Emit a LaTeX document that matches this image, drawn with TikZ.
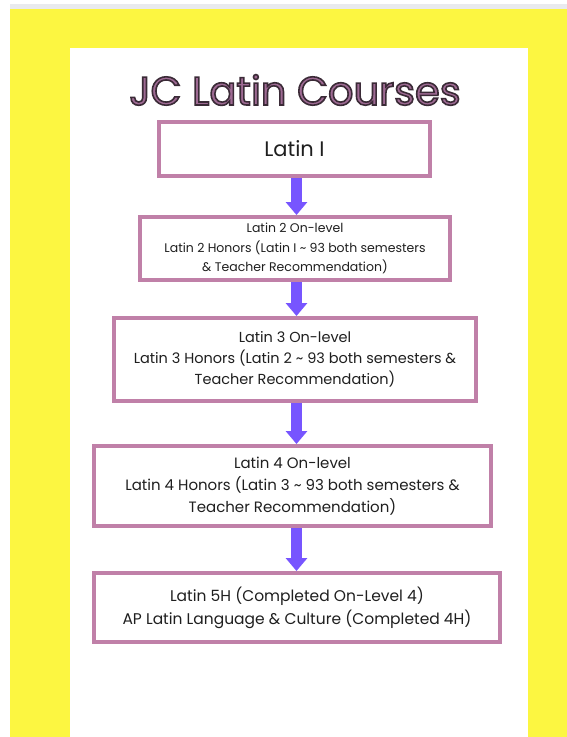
\documentclass[tikz,border=0pt]{standalone}
\usepackage{fontspec}
\setmainfont{Poppins}
\usetikzlibrary{arrows.meta}
\definecolor{bgyellow}{HTML}{FCF641}
\definecolor{stripgray}{HTML}{E9EAEE}
\definecolor{boxmauve}{HTML}{C080A8}
\definecolor{arrowblue}{HTML}{7755FF}
\definecolor{titlefill}{HTML}{9E6A93}
% outlined title text: fill in titlefill, stroke in dark plum
\newcommand{\outlined}[1]{\special{pdf:literal direct 2 Tr 1.6 w 0.231 0.169 0.216 RG}#1\special{pdf:literal direct 0 Tr}}
\tikzset{
  course/.style={draw=boxmauve, line width=4pt, fill=white, inner sep=0pt, align=center, text=black!88},
  flow/.style={arrowblue, line width=11pt, -{Triangle[width=21pt,length=13pt]}},
}
\begin{document}
\begin{tikzpicture}[x=1pt,y=-1pt]
\useasboundingbox (0,0) rectangle (567,737);
% page
\fill[stripgray] (10,4) rectangle (567,9);
\fill[bgyellow] (10,9) rectangle (567,737);
\fill[white] (70,48) rectangle (528,737);
% title
\node (title) [anchor=base, font=\fontsize{40}{48}\selectfont, text=titlefill] at (295,105) {\outlined{JC Latin Courses}};
% courses
\node (latin1) [course, minimum width=271pt, minimum height=54pt, font=\fontsize{21}{25}\selectfont] at (294.5,149) {Latin I};
\node (latin2) [course, minimum width=310pt, minimum height=63pt, font=\fontsize{12.5}{19.5}\selectfont] at (295,248.5) {Latin 2 On-level\\Latin 2 Honors (Latin I \textasciitilde{} 93 both semesters\\\& Teacher Recommendation)};
\node (latin3) [course, minimum width=362pt, minimum height=83pt, font=\fontsize{14.5}{21}\selectfont] at (295,359.5) {Latin 3 On-level\\Latin 3 Honors (Latin 2 \textasciitilde{} 93 both semesters \&\\Teacher Recommendation)};
\node (latin4) [course, minimum width=397pt, minimum height=80pt, font=\fontsize{15}{22}\selectfont] at (292.5,486) {Latin 4 On-level\\Latin 4 Honors (Latin 3 \textasciitilde{} 93 both semesters \&\\Teacher Recommendation)};
\node (latin5) [course, minimum width=406pt, minimum height=69pt, font=\fontsize{15.5}{23}\selectfont] at (297,607.5) {Latin 5H (Completed On-Level 4)\\AP Latin Language \& Culture (Completed 4H)};
% arrows
\draw[flow] (latin1.south -| 296.5,0) -- (latin2.north -| 296.5,0);
\draw[flow] (latin2.south -| 296.5,0) -- (latin3.north -| 296.5,0);
\draw[flow] (latin3.south -| 296.5,0) -- (latin4.north -| 296.5,0);
\draw[flow] (latin4.south -| 296.5,0) -- (latin5.north -| 296.5,0);
\end{tikzpicture}
\end{document}
